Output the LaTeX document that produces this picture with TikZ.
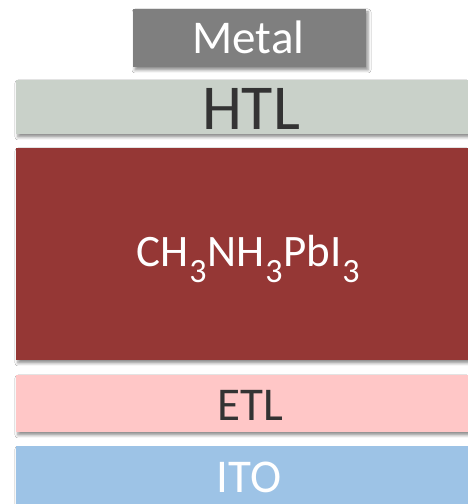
\documentclass[tikz,border=0pt]{standalone}
\usepackage{fontspec}
\setmainfont{Carlito}
\usetikzlibrary{shadows.blur}
\definecolor{metalc}{HTML}{7F7F7F}
\definecolor{htlc}{HTML}{C9D1C9}
\definecolor{pvkc}{HTML}{953735}
\definecolor{etlc}{HTML}{FFC7C7}
\definecolor{itoc}{HTML}{9DC3E6}
\definecolor{darktxt}{HTML}{333333}
\newcommand{\sbt}[1]{\kern0.8pt\raisebox{-16pt}{\fontsize{34}{34}\selectfont #1}\kern0.8pt}
\tikzset{
  layer/.style={draw=none, inner sep=0pt, outer sep=0pt,
    blur shadow={shadow xshift=2pt, shadow yshift=-3pt, shadow blur radius=3pt, shadow opacity=45}},
  lbl/.style={inner sep=0pt, anchor=base}
}
\begin{document}
\begin{tikzpicture}[x=1pt,y=1pt]
\useasboundingbox[fill=white] (0,0) rectangle (467,504);
% layers
\node[layer, fill=itoc, minimum width=468pt, minimum height=69pt] (ito) at (250,23.5) {};
\node[layer, fill=etlc, minimum width=468pt, minimum height=57pt] (etl) at (250,100.5) {};
\node[layer, fill=pvkc, minimum width=468pt, minimum height=212pt] (pvk) at (250,250) {};
\node[layer, fill=htlc, minimum width=468pt, minimum height=54pt] (htl) at (250,397) {};
\node[layer, fill=metalc, minimum width=233pt, minimum height=58pt] (metal) at (249.5,466) {};
% labels
\node[lbl, text=white, font=\fontsize{47}{47}\selectfont] (metallbl) at (248.5,450) {Metal};
\node[lbl, text=darktxt, font=\fontsize{64}{64}\selectfont] (htllbl) at (251,374) {HTL};
\node[lbl, text=white, font=\fontsize{45}{45}\selectfont] (pvklbl) at (248.5,237) {CH\sbt{3}NH\sbt{3}PbI\sbt{3}};
\node[lbl, text=darktxt, font=\fontsize{47}{47}\selectfont] (etllbl) at (250.5,83) {ETL};
\node[lbl, text=white, font=\fontsize{47}{47}\selectfont] (itolbl) at (249,12) {ITO};
\end{tikzpicture}
\end{document}
